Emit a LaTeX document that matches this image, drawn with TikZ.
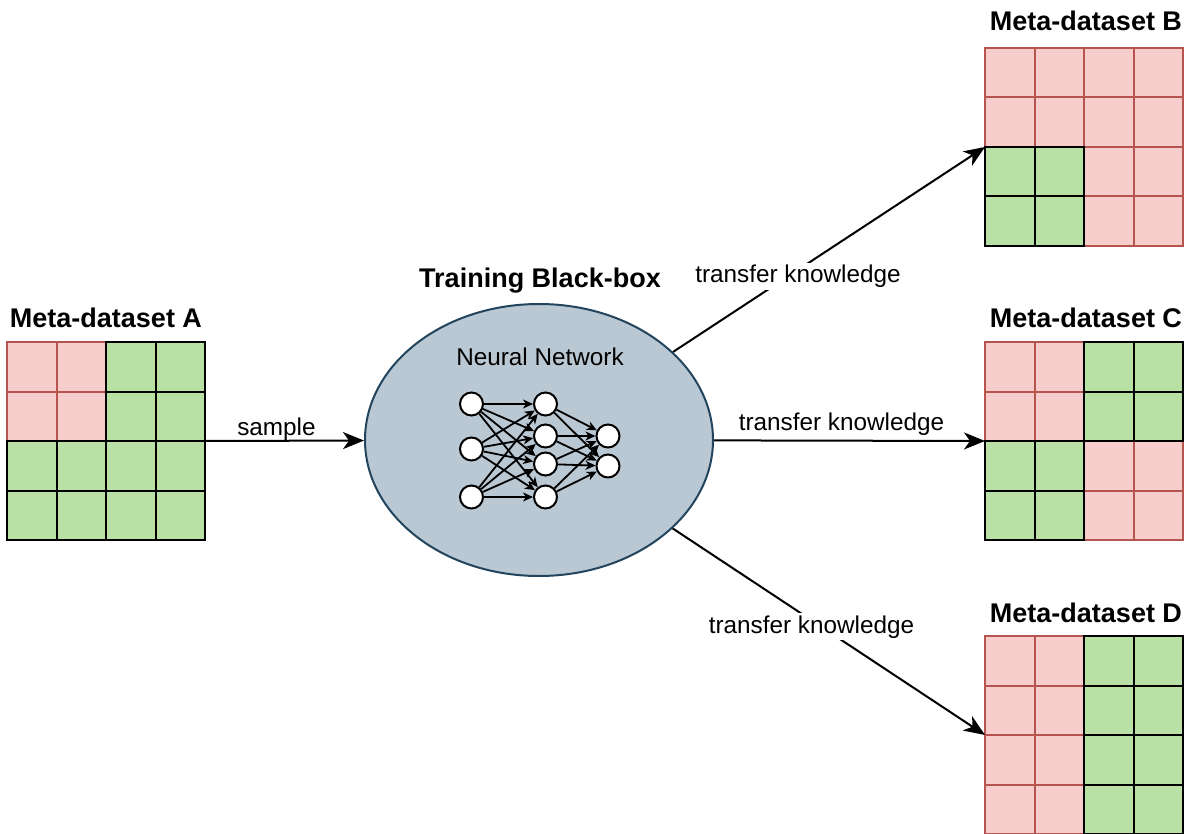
\documentclass[tikz,border=0pt]{standalone}
\usepackage{fontspec}
\setmainfont{Liberation Sans}
\usetikzlibrary{arrows.meta, shapes.geometric}

\definecolor{redfill}{HTML}{F8CECC}
\definecolor{redline}{HTML}{B85450}
\definecolor{greenfill}{HTML}{B9E0A5}
\definecolor{boxfill}{HTML}{BAC8D3}
\definecolor{boxline}{HTML}{23445D}

\tikzset{
  redcell/.style={fill=redfill, draw=redline, line width=2pt},
  greencell/.style={fill=greenfill, draw=black, line width=2pt},
  gridframe/.style={minimum size=198pt, inner sep=0pt, outer sep=0pt},
  title/.style={font=\fontsize{27}{32}\selectfont\bfseries, anchor=base, inner sep=0pt},
  lbl/.style={font=\fontsize{24.3}{28}\selectfont, anchor=base, inner sep=2pt},
  flow/.style={line width=2pt, -{Stealth[length=21pt, width=17pt, inset=6pt]}},
  neuron/.style={circle, draw=black, fill=white, line width=2pt, minimum size=23pt, inner sep=0pt},
  synapse/.style={line width=1.8pt, -{Stealth[length=10pt, width=9pt, inset=3pt]}},
  blackbox/.style={ellipse, draw=boxline, fill=boxfill, line width=2pt,
    minimum width=348pt, minimum height=272pt, inner sep=0pt},
}

% cells of a 4x4 grid: x0, y0 (top-left), style, list of col/row
\newcommand\gridcells[4]{%
  \foreach \c/\r in {#4}
    \draw[#3] ({#1+\c*49.5},{#2+\r*49.5}) rectangle ++(49.5,49.5);}

\begin{document}
\begin{tikzpicture}[x=1pt, y=-1pt]
\useasboundingbox (0,0) rectangle (1186,834);

% ---- Meta-dataset A ----
\gridcells{7}{342}{redcell}{0/0,1/0,0/1,1/1}
\gridcells{7}{342}{greencell}{2/0,3/0,2/1,3/1,0/2,1/2,2/2,3/2,0/3,1/3,2/3,3/3}
\node[gridframe] (gridA) at (106,441) {};
\node[title] (titleA) at (106,327) {Meta-dataset A};

% ---- Meta-dataset B ----
\gridcells{985}{48}{redcell}{0/0,1/0,2/0,3/0,0/1,1/1,2/1,3/1,2/2,3/2,2/3,3/3}
\gridcells{985}{48}{greencell}{0/2,1/2,0/3,1/3}
\node[gridframe] (gridB) at (1084,147) {};
\node[title] (titleB) at (1086,31) {Meta-dataset B};

% ---- Meta-dataset C ----
\gridcells{985}{342}{redcell}{0/0,1/0,0/1,1/1,2/2,3/2,2/3,3/3}
\gridcells{985}{342}{greencell}{2/0,3/0,2/1,3/1,0/2,1/2,0/3,1/3}
\node[gridframe] (gridC) at (1084,441) {};
\node[title] (titleC) at (1086,327) {Meta-dataset C};

% ---- Meta-dataset D ----
\gridcells{985}{636}{redcell}{0/0,1/0,0/1,1/1,0/2,1/2,0/3,1/3}
\gridcells{985}{636}{greencell}{2/0,3/0,2/1,3/1,2/2,3/2,2/3,3/3}
\node[gridframe] (gridD) at (1084,735) {};
\node[title] (titleD) at (1086,622) {Meta-dataset D};

% ---- training black-box ----
\node[blackbox] (bb) at (539,440) {};
\node[title] (titleBB) at (540,288) {Training Black-box};
\node[lbl, inner sep=0pt] (nnlabel) at (540,365) {Neural Network};

% small neural network inside
\node[neuron] (in1) at (471.5,404) {};
\node[neuron] (in2) at (471.5,449) {};
\node[neuron] (in3) at (471.5,497) {};
\node[neuron] (hid1) at (545.5,404) {};
\node[neuron] (hid2) at (545.5,436) {};
\node[neuron] (hid3) at (545.5,464) {};
\node[neuron] (hid4) at (545.5,497) {};
\node[neuron] (out1) at (608,436) {};
\node[neuron] (out2) at (608,466) {};
\foreach \i in {1,2,3}
  \foreach \j in {1,2,3,4}
    \draw[synapse] (in\i) -- (hid\j);
\foreach \j in {1,2,3,4}
  \foreach \k in {1,2}
    \draw[synapse] (hid\j) -- (out\k);

% ---- connectors ----
\draw[flow] (gridA.east) -- (bb);
\draw[flow] (bb) -- (gridB.west);
\draw[flow] (bb) -- (gridC.west);
\draw[flow] (bb) -- (gridD.west);

\node[lbl] (lsample) at (276.5,435) {sample};
\node[lbl, fill=white] (ltop) at (798,283) {transfer knowledge};
\node[lbl] (lmid) at (841.5,430) {transfer knowledge};
\node[lbl, fill=white] (lbot) at (811.5,633) {transfer knowledge};
\end{tikzpicture}
\end{document}
